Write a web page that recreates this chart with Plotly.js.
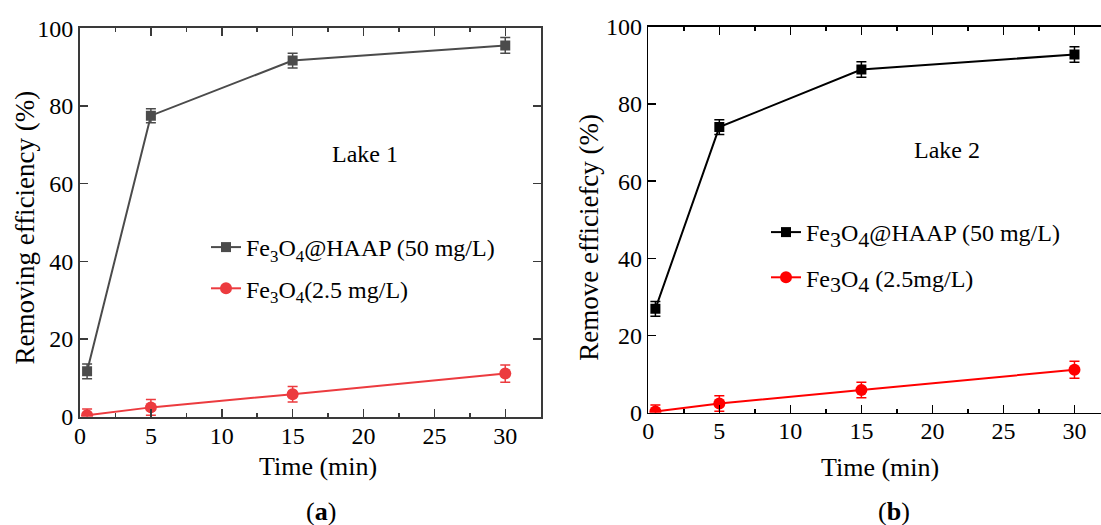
<!DOCTYPE html>
<html>
<head>
<meta charset="utf-8">
<script src="https://cdn.plot.ly/plotly-3.0.1.min.js"></script>
<style>
  html, body { margin: 0; padding: 0; background: #ffffff; overflow: hidden; }
  #chart { width: 1112px; height: 525px; }
</style>
</head>
<body>
<div id="chart"></div>
<script>
// Removal efficiency versus contact time for two lake water samples
const timeMin = [0.5, 5, 15, 30];

const lake1Composite = [11.7, 77.5, 91.7, 95.6];
const lake1CompositeErr = [1.9, 1.8, 1.9, 2.0];
const lake1Bare = [0.4, 2.4, 5.8, 11.1];
const lake1BareErr = [1.6, 2.0, 2.0, 2.2];

const lake2Composite = [26.9, 74.0, 88.9, 92.8];
const lake2CompositeErr = [1.9, 1.9, 2.0, 2.0];
const lake2Bare = [0.3, 2.4, 5.9, 11.1];
const lake2BareErr = [1.7, 2.0, 2.0, 2.2];

const xTicks = [0, 5, 10, 15, 20, 25, 30];
const yTicks = [0, 20, 40, 60, 80, 100];

const seriesNamesLake1 = [
  'Fe<sub>3</sub>O<sub>4</sub>@HAAP (50 mg/L)',
  'Fe<sub>3</sub>O<sub>4</sub>(2.5 mg/L)'
];
const seriesNamesLake2 = [
  'Fe<sub><span style="font-size:22px">3</span></sub>O<sub><span style="font-size:22px">4</span></sub>@HAAP (50 mg/L)',
  'Fe<sub><span style="font-size:22px">3</span></sub>O<sub><span style="font-size:22px">4</span></sub> (2.5mg/L)'
];

const W = 1112, H = 525;
const FONT = 'Liberation Serif, "Times New Roman", serif';
const px = v => v / W;
const py = v => 1 - v / H;

const GRAY = '#4b4b4b';
const RED1 = '#ec3b3f';
const BLACK = '#000000';
const RED2 = '#ff0000';

function series(x, y, err, color, symbol, size, name, xa, ya, legend, group) {
  return {
    type: 'scatter', mode: 'lines+markers',
    x: x, y: y, name: name,
    xaxis: xa, yaxis: ya, legend: legend, legendgroup: group,
    line: { color: color, width: 2 },
    marker: { color: color, symbol: symbol, size: size },
    error_y: { type: 'data', array: err, visible: true, color: color, thickness: 1.5, width: 5 }
  };
}

const traces = [
  series(timeMin, lake1Composite, lake1CompositeErr, GRAY, 'square', 10, seriesNamesLake1[0], 'x', 'y', 'legend', 'a1'),
  series(timeMin, lake1Bare, lake1BareErr, RED1, 'circle', 12, seriesNamesLake1[1], 'x', 'y', 'legend', 'a2'),
  series(timeMin, lake2Composite, lake2CompositeErr, BLACK, 'square', 10, seriesNamesLake2[0], 'x2', 'y2', 'legend2', 'b1'),
  series(timeMin, lake2Bare, lake2BareErr, RED2, 'circle', 12, seriesNamesLake2[1], 'x2', 'y2', 'legend2', 'b2')
];

function xAxis(domain, color, lw, anchor) {
  return {
    domain: domain, range: [0, 32.5], anchor: anchor,
    tickvals: xTicks, ticks: 'inside', ticklen: 8, tickwidth: 1.5, tickcolor: color,
    minor: { dtick: 2.5, tick0: 0, ticks: 'inside', ticklen: 4, tickwidth: 1.5, tickcolor: color },
    showline: true, linecolor: color, linewidth: lw, mirror: 'ticks',
    showgrid: false, zeroline: false, fixedrange: true,
    ticklabelstandoff: -4,
    tickfont: { family: FONT, size: 24, color: '#000' }
  };
}
function yAxis(domain, color, lw, anchor) {
  return {
    domain: domain, range: [0, 100], anchor: anchor,
    tickvals: yTicks, ticks: 'inside', ticklen: 8, tickwidth: 1.5, tickcolor: color,
    showline: true, linecolor: color, linewidth: lw, mirror: 'ticks',
    showgrid: false, zeroline: false, fixedrange: true,
    tickfont: { family: FONT, size: 24, color: '#000' }
  };
}

function label(text, x, y, size, angle) {
  return {
    text: text, xref: 'paper', yref: 'paper', x: px(x), y: py(y),
    xanchor: 'center', yanchor: 'middle', showarrow: false,
    textangle: angle || 0,
    font: { family: FONT, size: size, color: '#000' }
  };
}

const legendBase = {
  xanchor: 'left', yanchor: 'top', bgcolor: 'rgba(0,0,0,0)', borderwidth: 0,
  traceorder: 'grouped',
  font: { family: FONT, size: 24, color: '#000' }
};

const layout = {
  width: W, height: H,
  margin: { l: 0, r: 0, t: 0, b: 0 },
  font: { family: FONT, size: 24, color: '#000' },
  paper_bgcolor: '#ffffff', plot_bgcolor: '#ffffff',
  showlegend: true,
  xaxis: xAxis([px(80), px(540.7)], '#3a3a3a', 2, 'y'),
  yaxis: yAxis([py(416.7), py(28.3)], '#3a3a3a', 2, 'x'),
  xaxis2: xAxis([px(648.3), px(1110)], BLACK, 1.5, 'y2'),
  yaxis2: yAxis([py(412.7), py(26.7)], BLACK, 1.5, 'x2'),
  legend: Object.assign({}, legendBase, { x: px(206), y: py(225), tracegroupgap: 7 }),
  legend2: Object.assign({}, legendBase, { x: px(766), y: py(210), tracegroupgap: 11 }),
  annotations: [
    label('Lake 1', 365, 154, 24),
    label('Lake 2', 946.5, 150, 24),
    label('Removing efficiency (%)', 24.6, 228, 27, -90),
    label('Remove efficiefcy (%)', 589.3, 237.5, 27, -90),
    label('Time (min)', 318, 466, 26),
    label('Time (min)', 880, 467, 26),
    label('(<b>a</b>)', 321, 511, 26),
    label('(<b>b</b>)', 893.7, 511, 26)
  ]
};

Plotly.newPlot('chart', traces, layout, { displayModeBar: false, staticPlot: true });
</script>
</body>
</html>
